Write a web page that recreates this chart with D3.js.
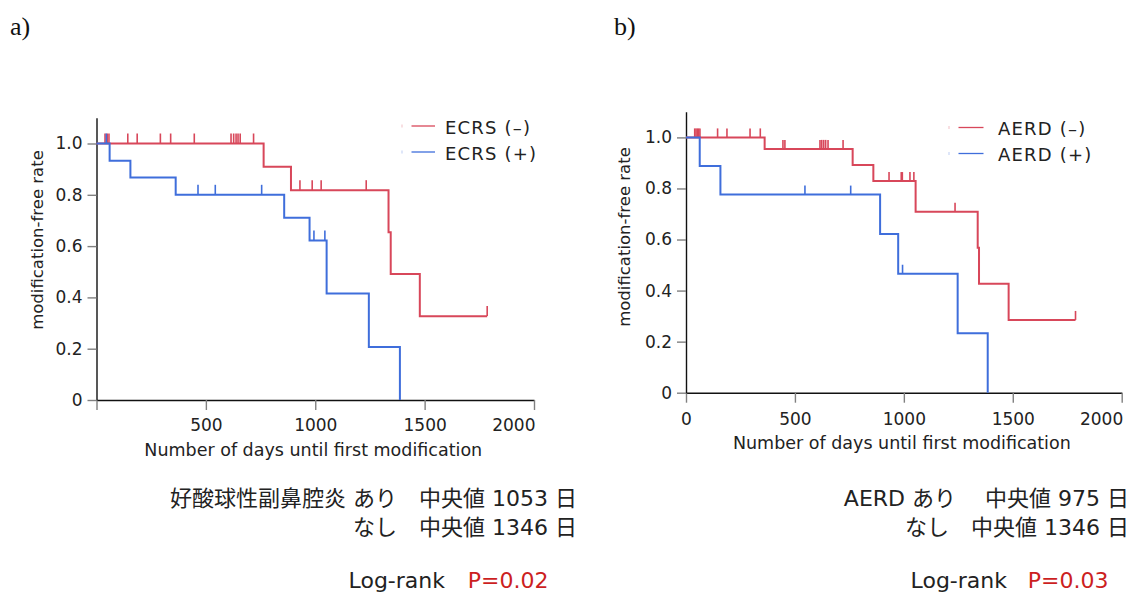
<!DOCTYPE html>
<html>
<head>
<meta charset="utf-8">
<script src="https://cdn.jsdelivr.net/npm/d3@7"></script>
<style>
  body { margin: 0; background: #fff; }
  svg { display: block; }
</style>
</head>
<body>
<div id="chart"></div>
<script>

// axis ticks
const xTicks = [0, 500, 1000, 1500, 2000];
const yTicks = [0, 0.2, 0.4, 0.6, 0.8, 1.0];
const yTickLabels = ["0", "0.2", "0.4", "0.6", "0.8", "1.0"];

// panel a) : ECRS
const ecrsLegend = ["ECRS (\u2013)", "ECRS (+)"];
const ecrsNegDays = [764, 889, 1335, 1345, 1478];
const ecrsNegSurv = [0.909, 0.818, 0.654, 0.491, 0.327];
const ecrsNegCensor = [39, 49, 57, 143, 186, 292, 339, 447, 615, 627, 638, 647, 657, 718, 930, 986, 1027, 1233, 1786];
const ecrsPosDays = [60, 155, 362, 858, 974, 1052, 1245, 1387];
const ecrsPosSurv = [0.933, 0.867, 0.800, 0.711, 0.622, 0.415, 0.207, 0];
const ecrsPosCensor = [45, 464, 543, 755, 994, 1044];
const ecrsNotes = ["好酸球性副鼻腔炎 あり　中央値 1053 日", "なし　中央値 1346 日"];
const ecrsP = "P=0.02";

// panel b) : AERD
const aerdLegend = ["AERD (\u2013)", "AERD (+)"];
const aerdNegDays = [361, 765, 860, 1054, 1339, 1345, 1481];
const aerdNegSurv = [0.955, 0.892, 0.829, 0.709, 0.568, 0.427, 0.285];
const aerdNegCensor = [40, 46, 52, 58, 64, 145, 188, 294, 341, 445, 454, 615, 623, 632, 641, 652, 721, 932, 988, 993, 1028, 1046, 1235, 1788];
const aerdPosDays = [63, 158, 891, 974, 1247, 1385];
const aerdPosSurv = [0.888, 0.776, 0.622, 0.466, 0.233, 0];
const aerdPosCensor = [546, 756, 994];
const aerdNotes = ["AERD あり　 中央値 975 日", "なし　中央値 1346 日"];
const aerdP = "P=0.03";

const red = "#d8475a";
const blue = "#3f6edb";
const latin = "'DejaVu Sans', sans-serif";
const mixed = "'DejaVu Sans', 'Noto Sans CJK JP', sans-serif";

const svg = d3.select("#chart").append("svg")
  .attr("width", 1135)
  .attr("height", 592);

var survAt = function(days, surv, t) {
  var s = 1;
  days.forEach(function(d, i) { if (d <= t) s = surv[i]; });
  return s;
};

function drawPanel(p) {
  var x = d3.scaleLinear().domain([0, 2000]).range([p.x0, p.x1]);
  var y = d3.scaleLinear().domain([0, 1.1]).range([p.y0, p.y0 - 1.1 * p.yUnit]);

  var g = svg.append("g");

  var xAxis = d3.axisBottom(x)
    .tickValues(xTicks)
    .tickSize(10)
    .tickSizeOuter(0)
    .tickPadding(p.xPad)
    .tickFormat(function(d) { return (d === 0 && !p.showX0) ? "" : d; });

  var yAxis = d3.axisLeft(y)
    .tickValues(yTicks)
    .tickSize(9)
    .tickSizeOuter(0)
    .tickPadding(p.yPad)
    .tickFormat(function(d, i) { return yTickLabels[i]; });

  [["x", xAxis, "translate(0," + y(0) + ")"], ["y", yAxis, "translate(" + x(0) + ",0)"]]
    .forEach(function(a) {
      var ax = g.append("g")
        .attr("class", a[0] + "-axis")
        .attr("transform", a[2])
        .call(a[1]);
      ax.select(".domain").attr("stroke", "#111").attr("stroke-width", 1.4);
      ax.selectAll(".tick line").attr("stroke", "#808080").attr("stroke-width", 1.4);
      ax.selectAll(".tick text")
        .attr("fill", "#222")
        .style("font-family", latin)
        .style("font-size", "17px");
    });

  // last x label sits left of its tick
  g.select(".x-axis").selectAll(".tick text")
    .filter(function(d) { return d === xTicks[xTicks.length - 1]; })
    .attr("text-anchor", "end")
    .attr("x", 1);

  g.append("text")
    .attr("x", x(1000) - 2)
    .attr("y", p.xTitleY)
    .attr("text-anchor", "middle")
    .attr("fill", "#222")
    .style("font-family", latin)
    .style("font-size", "17.5px")
    .text("Number of days until first modification");

  g.append("text")
    .attr("transform", "translate(" + p.yTitleX + "," + p.yTitleY + ") rotate(-90)")
    .attr("text-anchor", "middle")
    .attr("fill", "#222")
    .style("font-family", latin)
    .style("font-size", "16.5px")
    .text("modification-free rate");

  var line = d3.line()
    .x(function(d) { return x(d[0]); })
    .y(function(d) { return y(d[1]); })
    .curve(d3.curveStepAfter);

  p.curves.forEach(function(c) {
    var pts = [[0, 1]].concat(c.days.map(function(d, i) { return [d, c.surv[i]]; }));
    var last = d3.max(c.censor.concat(c.days));
    if (last > c.days[c.days.length - 1]) pts.push([last, c.surv[c.surv.length - 1]]);

    g.append("path")
      .datum(pts)
      .attr("fill", "none")
      .attr("stroke", c.color)
      .attr("stroke-width", 2)
      .attr("d", line);

    g.selectAll(null)
      .data(c.censor)
      .enter().append("line")
      .attr("x1", function(d) { return x(d); })
      .attr("x2", function(d) { return x(d); })
      .attr("y1", function(d) { return y(survAt(c.days, c.surv, d)); })
      .attr("y2", function(d) { return y(survAt(c.days, c.surv, d)) - p.censorH; })
      .attr("stroke", c.color)
      .attr("stroke-width", 1.6);
  });

  // legend
  p.curves.forEach(function(c, i) {
    var ly = p.legY + i * p.legStep;
    g.append("line")
      .attr("x1", p.legDot).attr("x2", p.legDot)
      .attr("y1", ly - 1.5).attr("y2", ly + 1.5)
      .attr("stroke", c.color).attr("stroke-opacity", 0.35);
    g.append("line")
      .attr("x1", p.legX0).attr("x2", p.legX1)
      .attr("y1", ly).attr("y2", ly)
      .attr("stroke", c.color)
      .attr("stroke-width", 1.3);
    g.append("text")
      .attr("x", p.legText)
      .attr("y", ly + 7.5)
      .attr("fill", "#222")
      .style("font-family", latin)
      .style("font-size", "18px")
      .style("letter-spacing", "1.2px")
      .text(c.label);
  });

  // panel label
  g.append("text")
    .attr("x", p.labelX)
    .attr("y", 35)
    .attr("fill", "#111")
    .style("font-family", "'Liberation Serif', 'DejaVu Serif', serif")
    .style("font-size", "26px")
    .text(p.label);

  // medians
  p.notes.forEach(function(t, i) {
    g.append("text")
      .attr("x", p.noteX)
      .attr("y", 506 + i * 28.5)
      .attr("text-anchor", "end")
      .attr("fill", "#222")
      .style("font-family", mixed)
      .style("font-size", "22px")
      .text(t);
  });

  g.append("text")
    .attr("x", p.logX)
    .attr("y", 588)
    .attr("text-anchor", "end")
    .attr("fill", "#222")
    .style("font-family", latin)
    .style("font-size", "22px")
    .text("Log-rank");

  g.append("text")
    .attr("x", p.pX)
    .attr("y", 588)
    .attr("text-anchor", "end")
    .attr("fill", "#cc1f1f")
    .style("font-family", latin)
    .style("font-size", "22px")
    .text(p.pText);
}

drawPanel({
  label: "a)", labelX: 10,
  x0: 96.5, x1: 534, y0: 400, yUnit: 256.5,
  xPad: 9, yPad: 5, showX0: false,
  xTitleY: 456, yTitleX: 43, yTitleY: 240,
  censorH: 10,
  legDot: 402, legX0: 411.5, legX1: 435, legText: 445, legY: 126, legStep: 26,
  curves: [
    { label: ecrsLegend[0], color: red, days: ecrsNegDays, surv: ecrsNegSurv, censor: ecrsNegCensor },
    { label: ecrsLegend[1], color: blue, days: ecrsPosDays, surv: ecrsPosSurv, censor: ecrsPosCensor }
  ],
  notes: ecrsNotes, noteX: 577,
  logX: 445, pX: 548.5, pText: ecrsP
});

drawPanel({
  label: "b)", labelX: 614,
  x0: 686, x1: 1121.7, y0: 392.7, yUnit: 255.3,
  xPad: 10, yPad: 5, showX0: true,
  xTitleY: 449, yTitleX: 630, yTitleY: 237,
  censorH: 9,
  legDot: 949, legX0: 958.5, legX1: 983.5, legText: 998, legY: 127.5, legStep: 26,
  curves: [
    { label: aerdLegend[0], color: red, days: aerdNegDays, surv: aerdNegSurv, censor: aerdNegCensor },
    { label: aerdLegend[1], color: blue, days: aerdPosDays, surv: aerdPosSurv, censor: aerdPosCensor }
  ],
  notes: aerdNotes, noteX: 1129,
  logX: 1007, pX: 1108.5, pText: aerdP
});

</script>
</body>
</html>
